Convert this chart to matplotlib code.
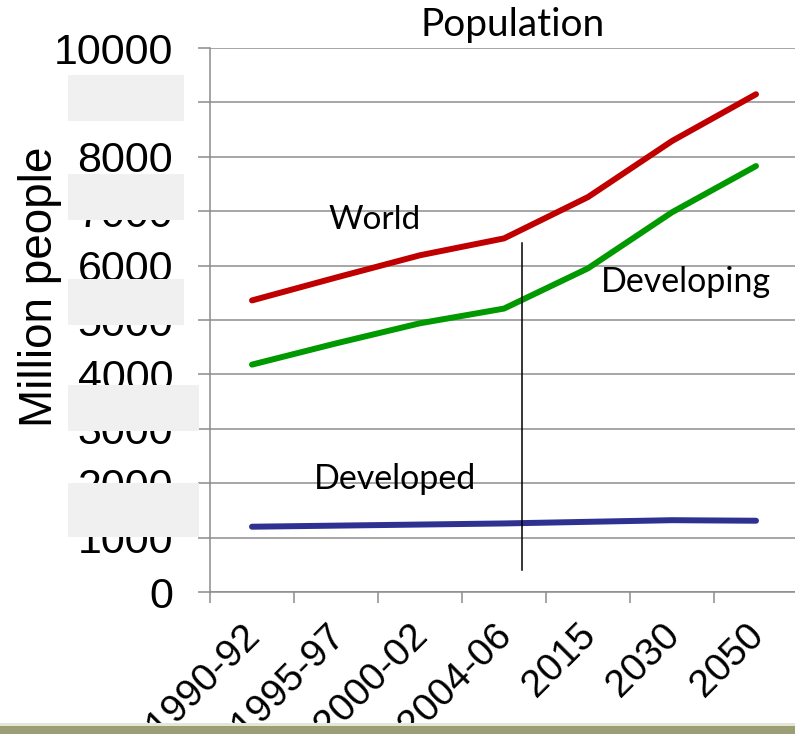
import numpy as np
import matplotlib
matplotlib.use("Agg")
import matplotlib.pyplot as plt
from matplotlib.patches import Rectangle

# population by period, million people
periods = ["1990-92", "1995-97", "2000-02", "2004-06", "2015", "2030", "2050"]
world = [5360, 5780, 6190, 6500, 7260, 8290, 9150]
developing = [4180, 4570, 4940, 5210, 5950, 6980, 7830]
developed = [1200, 1220, 1240, 1260, 1290, 1320, 1310]
yticks = list(range(0, 10001, 1000))

W, H = 795, 734
fig = plt.figure(figsize=(W / 100, H / 100), dpi=100)
ax = fig.add_axes([210 / W, 1 - 592 / H, 588 / W, 544 / H])

x = np.arange(len(periods))
ax.plot(x, world, color="#c00000", lw=4.3, solid_capstyle="round", zorder=3)
ax.plot(x, developing, color="#009900", lw=4.3, solid_capstyle="round", zorder=3)
ax.plot(x, developed, color="#2e3192", lw=4.3, solid_capstyle="round", zorder=3)

# divider between observed periods and projections
ax.plot([3.21, 3.21], [405, 6410], color="black", lw=1.1, zorder=4)

ax.set_xlim(-0.5, 6.5)
ax.set_ylim(0, 10000)
ax.set_yticks(yticks)
ax.set_yticklabels([str(v) for v in yticks], fontsize=31, family="Liberation Sans")
# boundary ticks on the major locator, rotated category names on the minor one
ax.set_xticks(np.arange(-0.5, 6.5, 1.0), minor=False)
ax.set_xticklabels([])
ax.set_xticks(x + 0.18, minor=True)
ax.set_xticklabels(periods, minor=True, rotation=45, ha="right",
                   fontsize=28, family="Liberation Sans")
ax.tick_params(axis="x", which="minor", length=0, pad=18)
ax.tick_params(axis="x", which="major", length=8, width=1.1, color="#8c8c8c",
               direction="out")
ax.tick_params(axis="y", length=8.6, width=1.1, color="#8c8c8c", direction="out",
               pad=18)

ax.grid(axis="y", color="#8e8e8e", lw=1.1)
ax.set_axisbelow(True)
for side in ["top", "right"]:
    ax.spines[side].set_visible(False)
for side in ["left", "bottom"]:
    ax.spines[side].set_color("#8c8c8c")
    ax.spines[side].set_linewidth(1.1)

fig.text(40 / W, 1 - 287 / H, "Million people", fontsize=33,
         family="Liberation Sans", rotation=90, ha="center", va="center")

fig.text(513 / W, 1 - 25 / H, "Population", fontsize=28, family="Lato",
         ha="center", va="center")
ax.text(1.46, 6830, "World", fontsize=24, family="Lato", ha="center", va="center")
ax.text(5.17, 5690, "Developing", fontsize=24.5, family="Lato", ha="center", va="center")
ax.text(1.70, 2080, "Developed", fontsize=24.5, family="Lato", ha="center", va="center")

# light panels laid over the odd tick labels
for bx, by, bw, bh in [(68, 75, 116, 46), (68, 174, 116, 46), (68, 279, 116, 46),
                       (68, 385, 131, 46), (68, 483, 131, 54)]:
    fig.add_artist(Rectangle((bx / W, 1 - (by + bh) / H), bw / W, bh / H,
                             transform=fig.transFigure, color="#f0f0f0",
                             lw=0, zorder=5))

# olive strip along the bottom edge
fig.add_artist(Rectangle((0, 0), 1, 8 / H, transform=fig.transFigure,
                         color="#9c9e76", lw=0, zorder=5))
fig.add_artist(Rectangle((0, 8 / H), 1, 3 / H, transform=fig.transFigure,
                         color="#e4e6d6", lw=0, zorder=5))

fig.savefig("out.png", dpi=100)
